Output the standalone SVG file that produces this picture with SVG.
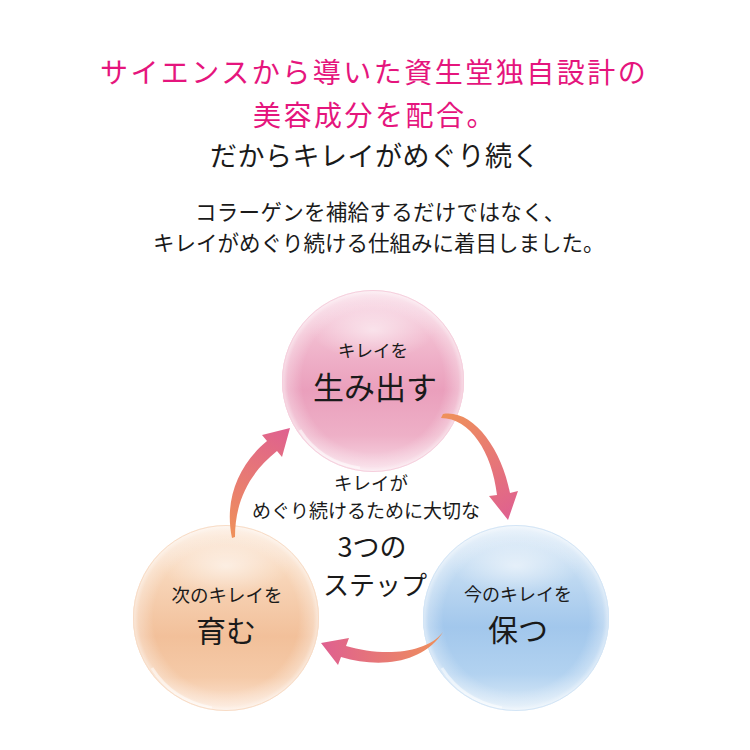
<svg xmlns="http://www.w3.org/2000/svg" width="750" height="750" viewBox="0 0 750 750">
<defs>
<style>
.t{font-family:"Noto Sans CJK JP","Noto Sans",sans-serif;fill:#1a1a1a}
.pk{fill:#e5157d}
.m{text-anchor:middle}
</style>
<linearGradient id="gPink" x1="0" y1="0" x2="0" y2="1">
<stop offset="0" stop-color="#f9dde8"/><stop offset="0.25" stop-color="#f2bcd0"/><stop offset="0.55" stop-color="#ea9fbc"/><stop offset="0.8" stop-color="#eeb0c7"/><stop offset="1" stop-color="#f8d9e5"/>
</linearGradient>
<linearGradient id="gBlue" x1="0" y1="0" x2="0" y2="1">
<stop offset="0" stop-color="#e2eef9"/><stop offset="0.25" stop-color="#c2dbf2"/><stop offset="0.55" stop-color="#a2c7ec"/><stop offset="0.8" stop-color="#b2d2f0"/><stop offset="1" stop-color="#deecf8"/>
</linearGradient>
<linearGradient id="gOrange" x1="0" y1="0" x2="0" y2="1">
<stop offset="0" stop-color="#fcebdd"/><stop offset="0.25" stop-color="#f8d7bb"/><stop offset="0.6" stop-color="#f2c09a"/><stop offset="0.82" stop-color="#f5caa8"/><stop offset="1" stop-color="#fce6d6"/>
</linearGradient>
<radialGradient id="gRim" cx="0.5" cy="0.5" r="0.5">
<stop offset="0" stop-color="#fff" stop-opacity="0"/><stop offset="0.78" stop-color="#fff" stop-opacity="0"/><stop offset="0.94" stop-color="#fff" stop-opacity="0.3"/><stop offset="1" stop-color="#fff" stop-opacity="0.65"/>
</radialGradient>
<radialGradient id="gHi" cx="0.5" cy="0.5" r="0.5">
<stop offset="0" stop-color="#fff" stop-opacity="0.55"/><stop offset="1" stop-color="#fff" stop-opacity="0"/>
</radialGradient>
<linearGradient id="a1" gradientUnits="userSpaceOnUse" x1="442" y1="415" x2="508" y2="520">
<stop offset="0" stop-color="#ef915a"/><stop offset="1" stop-color="#df6090"/>
</linearGradient>
<linearGradient id="a2" gradientUnits="userSpaceOnUse" x1="443" y1="633" x2="321" y2="643">
<stop offset="0" stop-color="#ef915a"/><stop offset="1" stop-color="#df6090"/>
</linearGradient>
<linearGradient id="a3" gradientUnits="userSpaceOnUse" x1="233" y1="538" x2="290" y2="428">
<stop offset="0" stop-color="#ef915a"/><stop offset="1" stop-color="#df6090"/>
</linearGradient>
</defs>
<rect width="750" height="750" fill="#fff"/>

<g id="title">
<text class="t pk" x="100" y="83" font-size="28" letter-spacing="2.5">サイエンスから導いた資生堂独自設計の</text>
<text class="t pk" x="253" y="126" font-size="28" letter-spacing="2.5">美容成分を配合。</text>
<text class="t" x="210" y="166" font-size="27" letter-spacing="0.5">だからキレイがめぐり続く</text>
<text class="t" x="195" y="220" font-size="21.5" letter-spacing="0.3">コラーゲンを補給するだけではなく、</text>
<text class="t" x="153" y="251" font-size="21.5">キレイがめぐり続ける仕組みに着目しました。</text>
</g>

<g id="node-umidasu">
<circle cx="373" cy="381" r="91" fill="url(#gPink)"/>
<circle cx="373" cy="381" r="91" fill="url(#gRim)"/>
<ellipse cx="373" cy="330" rx="62" ry="30" fill="url(#gHi)"/>
<path d="M300,430 Q320,462 360,468" fill="none" stroke="#fff" stroke-opacity="0.5" stroke-width="3"/>
<circle cx="373" cy="381" r="90.5" fill="none" stroke="#f6cfdd" stroke-width="1"/>
<text class="t m" x="373" y="357" font-size="17.5">キレイを</text>
<text class="t m" x="375" y="399" font-size="31">生み出す</text>
</g>

<g id="node-tamotsu">
<circle cx="516" cy="618" r="93" fill="url(#gBlue)"/>
<circle cx="516" cy="618" r="93" fill="url(#gRim)"/>
<ellipse cx="516" cy="566" rx="64" ry="30" fill="url(#gHi)"/>
<path d="M442,668 Q462,700 502,708" fill="none" stroke="#fff" stroke-opacity="0.5" stroke-width="3"/>
<circle cx="516" cy="618" r="92.5" fill="none" stroke="#d3e5f6" stroke-width="1"/>
<text class="t m" x="518" y="601" font-size="18">今のキレイを</text>
<text class="t m" x="518" y="641" font-size="30">保つ</text>
</g>

<g id="node-hagukumu">
<circle cx="226" cy="618" r="93" fill="url(#gOrange)"/>
<circle cx="226" cy="618" r="93" fill="url(#gRim)"/>
<ellipse cx="226" cy="566" rx="64" ry="30" fill="url(#gHi)"/>
<path d="M152,668 Q172,700 212,708" fill="none" stroke="#fff" stroke-opacity="0.5" stroke-width="3"/>
<circle cx="226" cy="618" r="92.5" fill="none" stroke="#f8dcc6" stroke-width="1"/>
<text class="t m" x="227" y="602" font-size="18.5">次のキレイを</text>
<text class="t m" x="226" y="642" font-size="30">育む</text>
</g>

<g id="center-label">
<text class="t m" x="371" y="490" font-size="18.5">キレイが</text>
<text class="t m" x="366" y="518" font-size="19">めぐり続けるために大切な</text>
<text class="t m" x="372" y="557" font-size="27">3つの</text>
<text class="t m" x="375" y="595" font-size="26">ステップ</text>
</g>

<g id="connectors">
<path d="M443,414 C472,409 501,447 510,493 L518,491 L508,520 L489,496 L497,495 C492,452 470,418 441,418 Z" fill="url(#a1)"/>
<path d="M443,632 C425,655 380,656 346,646 L349,638 L321,643 L338,665 L341,657 C378,668 420,664 441,635 Z" fill="url(#a2)"/>
<path d="M232,538 C224,500 238,465 267,441 L262,435 L290,428 L282,457 L277,451 C248,474 235,503 235,537 Z" fill="url(#a3)"/>
</g>
</svg>
